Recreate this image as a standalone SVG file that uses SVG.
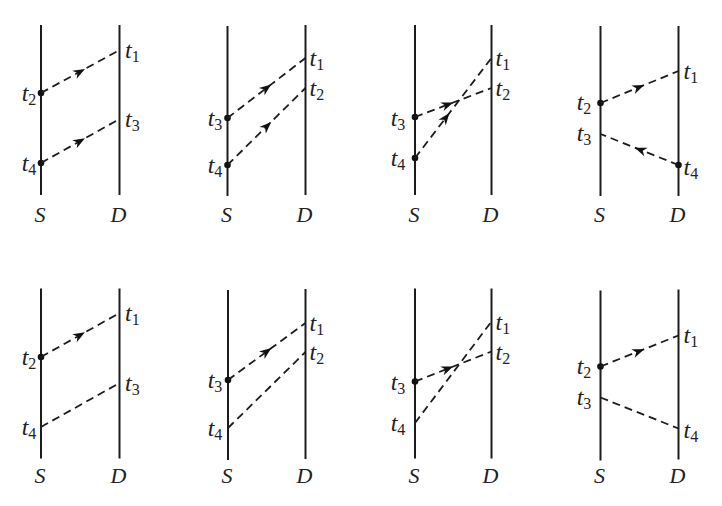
<svg xmlns="http://www.w3.org/2000/svg" width="722" height="506" viewBox="0 0 722 506">
<style>
.tl{stroke:#1c1c1c;stroke-width:2;fill:none}
.msg{stroke:#1c1c1c;stroke-width:1.8;stroke-dasharray:8 5;fill:none}
.arr{marker-mid:url(#ah)}
.dot{fill:#111}
.lbl{font-style:italic;font-size:24px;fill:#222}
.sub{font-style:normal;font-size:16px}
.ml{text-anchor:middle}
.name{font-size:22px;text-anchor:middle}
</style>
<defs>
<marker id="ah" viewBox="-13 -6 14 12" refX="0" refY="0" markerWidth="14" markerHeight="12" markerUnits="userSpaceOnUse" orient="auto">
<path d="M0,0 L-12,-4.6 L-8.5,0 L-12,4.6 Z" fill="#111" stroke="none"/>
</marker>
</defs>

<g font-family="Liberation Serif, serif">
<!-- Panel 1 -->
<g id="p1-S"><line class="tl" x1="41" y1="25" x2="41" y2="195"/><text class="lbl name" x="40" y="222">S</text>
<circle class="dot" cx="41" cy="93" r="3.3"/><circle class="dot" cx="41" cy="163" r="3.3"/>
<text class="lbl ml" x="29" y="101">t<tspan class="sub" dy="4">2</tspan></text>
<text class="lbl ml" x="29" y="171">t<tspan class="sub" dy="4">4</tspan></text></g>
<g id="p1-D"><line class="tl" x1="119.5" y1="25" x2="119.5" y2="195"/><text class="lbl name" x="118.5" y="222">D</text>
<text class="lbl" x="125" y="58">t<tspan class="sub" dy="4">1</tspan></text>
<text class="lbl" x="125" y="127">t<tspan class="sub" dy="4">3</tspan></text></g>

<!-- Panel 2 -->
<g id="p2-S"><line class="tl" x1="227.5" y1="26" x2="227.5" y2="196"/><text class="lbl name" x="226.5" y="222">S</text>
<circle class="dot" cx="227.5" cy="118" r="3.3"/><circle class="dot" cx="227.5" cy="165" r="3.3"/>
<text class="lbl ml" x="215" y="126">t<tspan class="sub" dy="4">3</tspan></text>
<text class="lbl ml" x="215" y="173">t<tspan class="sub" dy="4">4</tspan></text></g>
<g id="p2-D"><line class="tl" x1="305.5" y1="25" x2="305.5" y2="195"/><text class="lbl name" x="304.5" y="222">D</text>
<text class="lbl" x="309.5" y="66">t<tspan class="sub" dy="4">1</tspan></text>
<text class="lbl" x="309.5" y="96">t<tspan class="sub" dy="4">2</tspan></text></g>

<!-- Panel 3 -->
<g id="p3-S"><line class="tl" x1="415" y1="25" x2="415" y2="195"/><text class="lbl name" x="414" y="222">S</text>
<circle class="dot" cx="415" cy="117" r="3.3"/><circle class="dot" cx="415" cy="158" r="3.3"/>
<text class="lbl ml" x="398" y="126">t<tspan class="sub" dy="4">3</tspan></text>
<text class="lbl ml" x="398" y="166">t<tspan class="sub" dy="4">4</tspan></text></g>
<g id="p3-D"><line class="tl" x1="491.5" y1="25" x2="491.5" y2="195"/><text class="lbl name" x="490.5" y="222">D</text>
<text class="lbl" x="495.5" y="66">t<tspan class="sub" dy="4">1</tspan></text>
<text class="lbl" x="495.5" y="96">t<tspan class="sub" dy="4">2</tspan></text></g>

<!-- Panel 4 -->
<g id="p4-S"><line class="tl" x1="600.5" y1="26" x2="600.5" y2="196"/><text class="lbl name" x="599.5" y="222">S</text>
<circle class="dot" cx="600.5" cy="103" r="3.3"/>
<text class="lbl ml" x="584" y="110">t<tspan class="sub" dy="4">2</tspan></text>
<text class="lbl ml" x="584" y="141">t<tspan class="sub" dy="4">3</tspan></text></g>
<g id="p4-D"><line class="tl" x1="678.5" y1="26" x2="678.5" y2="196"/><text class="lbl name" x="677.5" y="222">D</text>
<circle class="dot" cx="678.5" cy="165" r="3.3"/>
<text class="lbl" x="683.5" y="79">t<tspan class="sub" dy="4">1</tspan></text>
<text class="lbl" x="683.5" y="175">t<tspan class="sub" dy="4">4</tspan></text></g>

<!-- Panel 5 -->
<g id="p5-S"><line class="tl" x1="41" y1="288.5" x2="41" y2="458.5"/><text class="lbl name" x="40" y="483">S</text>
<circle class="dot" cx="41" cy="357" r="3.3"/>
<text class="lbl ml" x="29" y="365">t<tspan class="sub" dy="4">2</tspan></text>
<text class="lbl ml" x="29" y="435">t<tspan class="sub" dy="4">4</tspan></text></g>
<g id="p5-D"><line class="tl" x1="119.5" y1="288.5" x2="119.5" y2="458.5"/><text class="lbl name" x="118.5" y="483">D</text>
<text class="lbl" x="125" y="321">t<tspan class="sub" dy="4">1</tspan></text>
<text class="lbl" x="125" y="391">t<tspan class="sub" dy="4">3</tspan></text></g>

<!-- Panel 6 -->
<g id="p6-S"><line class="tl" x1="228" y1="290" x2="228" y2="460"/><text class="lbl name" x="227" y="483">S</text>
<circle class="dot" cx="228" cy="380" r="3.3"/>
<text class="lbl ml" x="215" y="388">t<tspan class="sub" dy="4">3</tspan></text>
<text class="lbl ml" x="215" y="436">t<tspan class="sub" dy="4">4</tspan></text></g>
<g id="p6-D"><line class="tl" x1="305.5" y1="289" x2="305.5" y2="459"/><text class="lbl name" x="304.5" y="483">D</text>
<text class="lbl" x="309.5" y="331">t<tspan class="sub" dy="4">1</tspan></text>
<text class="lbl" x="309.5" y="360">t<tspan class="sub" dy="4">2</tspan></text></g>

<!-- Panel 7 -->
<g id="p7-S"><line class="tl" x1="415" y1="288.5" x2="415" y2="458.5"/><text class="lbl name" x="414" y="483">S</text>
<circle class="dot" cx="415" cy="381.5" r="3.3"/>
<text class="lbl ml" x="398" y="390">t<tspan class="sub" dy="4">3</tspan></text>
<text class="lbl ml" x="398" y="431">t<tspan class="sub" dy="4">4</tspan></text></g>
<g id="p7-D"><line class="tl" x1="491.5" y1="288.5" x2="491.5" y2="458.5"/><text class="lbl name" x="490.5" y="483">D</text>
<text class="lbl" x="495.5" y="330">t<tspan class="sub" dy="4">1</tspan></text>
<text class="lbl" x="495.5" y="360">t<tspan class="sub" dy="4">2</tspan></text></g>

<!-- Panel 8 -->
<g id="p8-S"><line class="tl" x1="600.5" y1="290.5" x2="600.5" y2="460.5"/><text class="lbl name" x="599.5" y="483">S</text>
<circle class="dot" cx="600.5" cy="366.5" r="3.3"/>
<text class="lbl ml" x="584" y="374">t<tspan class="sub" dy="4">2</tspan></text>
<text class="lbl ml" x="584" y="405">t<tspan class="sub" dy="4">3</tspan></text></g>
<g id="p8-D"><line class="tl" x1="678.5" y1="289.5" x2="678.5" y2="459.5"/><text class="lbl name" x="677.5" y="483">D</text>
<text class="lbl" x="683.5" y="343">t<tspan class="sub" dy="4">1</tspan></text>
<text class="lbl" x="683.5" y="438">t<tspan class="sub" dy="4">4</tspan></text></g>
</g>

<g id="connectors">
<path class="msg arr" d="M41,93 L84.96,68.92 L119.5,50"/>
<path class="msg arr" d="M41,163 L84.96,138.36 L119.5,119"/>
<path class="msg arr" d="M227.5,118 L271.18,84.4 L305.5,58"/>
<path class="msg arr" d="M227.5,165 L271.18,121.88 L305.5,88"/>
<path class="msg arr" d="M415,117 L453.25,102.5 L491.5,88"/>
<path class="msg arr" d="M415,158 L449.43,113 L491.5,58"/>
<path class="msg arr" d="M600.5,103 L644.18,85.08 L678.5,71"/>
<path class="msg arr" d="M678.5,165 L634.82,147.64 L600.5,134"/>
<path class="msg arr" d="M41,357 L84.96,332.36 L119.5,313"/>
<path class="msg" d="M41,427 L119.5,383"/>
<path class="msg arr" d="M228,380 L271.4,348.08 L305.5,323"/>
<path class="msg" d="M228,428 L305.5,352"/>
<path class="msg arr" d="M415,381.5 L453.25,366.5 L491.5,351.5"/>
<path class="msg" d="M415,423 L491.5,321.5"/>
<path class="msg arr" d="M600.5,366.5 L644.18,349.14 L678.5,335.5"/>
<path class="msg" d="M600.5,397.5 L678.5,428.5"/>
</g>
</svg>
